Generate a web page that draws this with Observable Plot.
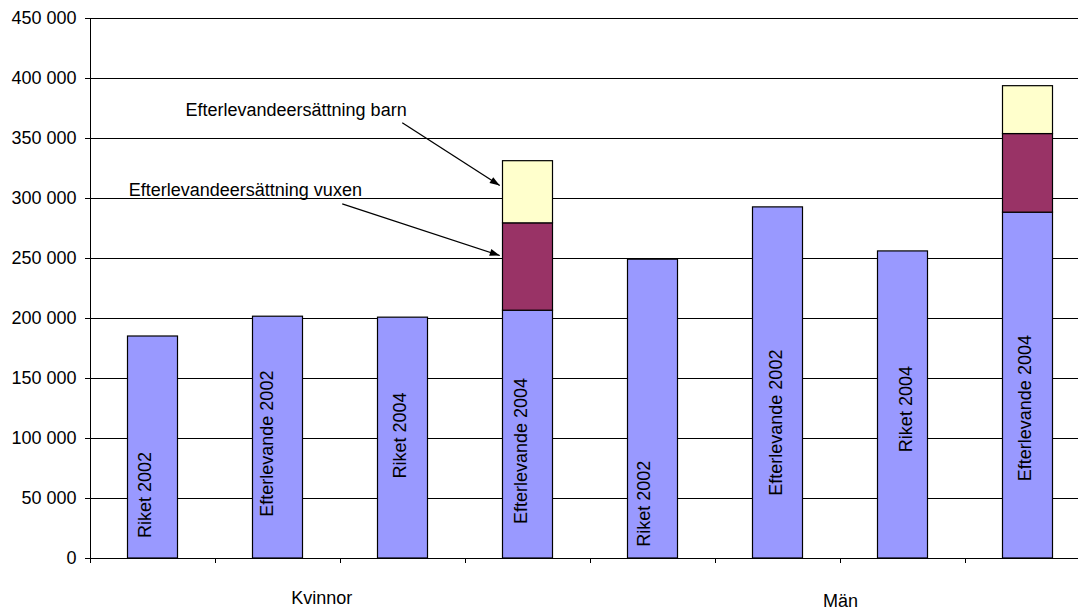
<!DOCTYPE html>
<html>
<head>
<meta charset="utf-8">
<script src="https://cdn.jsdelivr.net/npm/d3@7"></script>
<script src="https://cdn.jsdelivr.net/npm/@observablehq/plot@0.6"></script>
<style>
  html, body { margin: 0; padding: 0; background: #fff; }
  #chart svg { display: block; }
</style>
</head>
<body>
<div id="chart"></div>
<script>
// ---- data ----
const categories = ["Riket 2002", "Efterlevande 2002", "Riket 2004", "Efterlevande 2004",
                    "Riket 2002", "Efterlevande 2002", "Riket 2004", "Efterlevande 2004"];
const groups = ["Kvinnor", "Kvinnor", "Kvinnor", "Kvinnor", "Män", "Män", "Män", "Män"];
const baseValues  = [185000, 201500, 200700, 206500, 249000, 292600, 255900, 288200];
const vuxenValues = [0, 0, 0, 72800, 0, 0, 0, 65500];
const barnValues  = [0, 0, 0, 51800, 0, 0, 0, 39900];
const yTicks = [0, 50000, 100000, 150000, 200000, 250000, 300000, 350000, 400000, 450000];
const seriesNames = ["Bas", "Efterlevandeersättning vuxen", "Efterlevandeersättning barn"];
const seriesColors = ["#9999FF", "#993366", "#FFFFCC"];

// label layout
const labelX = [0.436, 1.416, 2.476, 3.446, 4.426, 5.486, 6.526, 7.476];
const labelY = [53000, 95700, 102500, 89600, 45700, 113200, 124500, 125300];
const groupNames = ["Kvinnor", "Män"];
const groupX = [1.85, 6.0];
const groupDy = [45, 48];
const annTexts = ["Efterlevandeersättning barn", "Efterlevandeersättning vuxen"];
const annX = [0.76, 0.306];
const annY = [373300, 306700];
const arrowX1 = [2.494, 2.014];
const arrowY1 = [363100, 295600];
const arrowX2 = [3.274, 3.274];
const arrowY2 = [310800, 252500];
const arrowAngle = [32.7, 18.2];

// ---- build tables ----
const rects = [];
categories.forEach((c, i) => {
  const parts = [baseValues[i], vuxenValues[i], barnValues[i]];
  const tops = d3.cumsum(parts);
  parts.forEach((v, k) => {
    if (v > 0) rects.push({i, series: seriesNames[k], y1: tops[k] - v, y2: tops[k]});
  });
});
const labels = categories.map((c, i) => ({text: c, x: labelX[i], y: labelY[i]}));
const groupLabels = groupNames.map((g, k) => ({text: g, x: groupX[k]}));
const anns = annTexts.map((t, k) => ({text: t, x: annX[k], y: annY[k]}));
const arrows = annTexts.map((t, k) => ({x1: arrowX1[k], y1: arrowY1[k], x2: arrowX2[k], y2: arrowY2[k], a: arrowAngle[k]}));

const headSymbol = {
  draw(ctx) { ctx.moveTo(0, 0); ctx.lineTo(-3.5, 10); ctx.lineTo(3.5, 10); ctx.closePath(); }
};
const fmt = d => d3.format(",")(d).replace(/,/g, " ");

const plot = Plot.plot({
  width: 1078,
  height: 613,
  marginLeft: 90,
  marginRight: -12,
  marginTop: 18,
  marginBottom: 55,
  style: {fontFamily: "'Liberation Sans', Arial, sans-serif", fontSize: "18px", color: "#000", background: "#fff"},
  x: {type: "linear", domain: [0, categories.length], axis: null},
  y: {domain: [0, 450000], axis: null},
  color: {domain: seriesNames, range: seriesColors},
  marks: [
    Plot.ruleY(yTicks, {stroke: "#000", strokeWidth: 1}),
    Plot.ruleX([0], {y1: 0, y2: 450000, stroke: "#000", strokeWidth: 1}),
    Plot.axisY({ticks: yTicks, tickFormat: fmt, tickSize: 5, tickPadding: 9, label: null, fontSize: 18}),
    Plot.axisX({ticks: d3.range(categories.length + 1), tickFormat: () => "", tickSize: 5, label: null}),
    Plot.rect(rects, {x1: d => d.i + 0.3, x2: d => d.i + 0.7, y1: "y1", y2: "y2", fill: "series", stroke: "#000", strokeWidth: 1.2}),
    Plot.text(labels, {x: "x", y: "y", text: "text", rotate: -90, fontSize: 18, fill: "#000"}),
    Plot.text(groupLabels.slice(0, 1), {x: "x", frameAnchor: "bottom", dy: groupDy[0], text: "text", fontSize: 18, fill: "#000"}),
    Plot.text(groupLabels.slice(1), {x: "x", frameAnchor: "bottom", dy: groupDy[1], text: "text", fontSize: 18, fill: "#000"}),
    Plot.text(anns, {x: "x", y: "y", text: "text", textAnchor: "start", fontSize: 18, fill: "#000"}),
    Plot.link(arrows, {x1: "x1", y1: "y1", x2: "x2", y2: "y2", stroke: "#000", strokeWidth: 1.3}),
    Plot.dot(arrows.slice(0, 1), {x: "x2", y: "y2", symbol: headSymbol, rotate: 90 + arrowAngle[0], fill: "#000", stroke: "none"}),
    Plot.dot(arrows.slice(1), {x: "x2", y: "y2", symbol: headSymbol, rotate: 90 + arrowAngle[1], fill: "#000", stroke: "none"})
  ]
});
document.getElementById("chart").appendChild(plot);
</script>
</body>
</html>
